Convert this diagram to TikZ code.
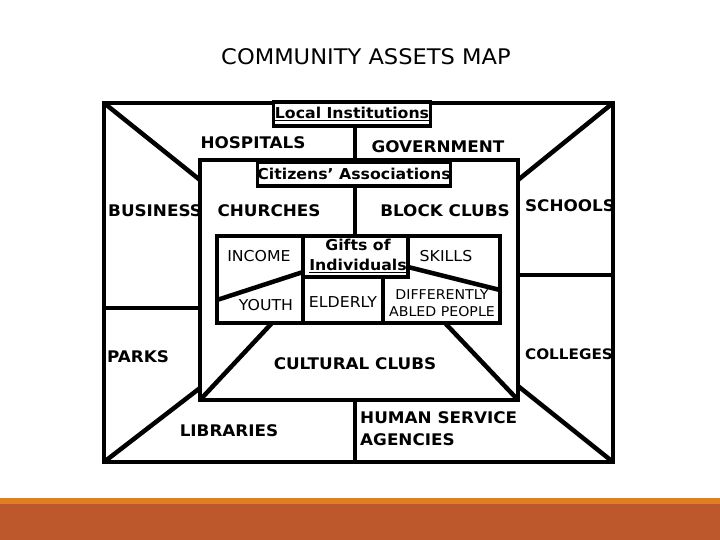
\documentclass[tikz,border=0pt]{standalone}
\usepackage{fontspec}
\setmainfont{DejaVu Sans}[FakeStretch=1.05]
\definecolor{bandlight}{RGB}{224,128,34}
\definecolor{banddark}{RGB}{188,88,44}
\begin{document}
\begin{tikzpicture}[x=1pt,y=-1pt,
  wall/.style={line width=4.5pt, line join=miter},
  lbl/.style={inner sep=0pt, font=\bfseries\fontsize{16}{18}\selectfont},
  smalllbl/.style={inner sep=0pt, font=\fontsize{15}{17}\selectfont},
  tagbox/.style={draw, fill=white, line width=3.5pt, inner sep=0pt, font=\bfseries\fontsize{15}{17}\selectfont}]
\useasboundingbox (0,0) rectangle (720,540);
\fill[white] (0,0) rectangle (720,540);
\fill[bandlight] (0,498) rectangle (720,504);
\fill[banddark] (0,504) rectangle (720,540);

% corners
\coordinate (OTL) at (104,103);
\coordinate (OTR) at (613,103);
\coordinate (OBR) at (613,462);
\coordinate (OBL) at (104,462);
\coordinate (ITL) at (200,160);
\coordinate (ITR) at (518,160);
\coordinate (IBR) at (518,400);
\coordinate (IBL) at (200,400);
\coordinate (DTL) at (200,180);
\coordinate (DTR) at (518,180);
\coordinate (DBL) at (200,388);
\coordinate (DBR) at (518,386);
\coordinate (LH1) at (104,308);
\coordinate (LH2) at (200,308);
\coordinate (RH1) at (518,275);
\coordinate (RH2) at (613,275);
\coordinate (CTL) at (217,236);
\coordinate (CBR) at (500,323);
\coordinate (GTL) at (303,236);
\coordinate (GBR) at (408,277);
\coordinate (GBL) at (303,277);
\coordinate (YB) at (303,323);
\coordinate (EB1) at (383,277);
\coordinate (EB2) at (383,323);
\coordinate (DL1) at (217,300);
\coordinate (DL2) at (303,272);
\coordinate (DR1) at (408,267);
\coordinate (DR2) at (500,290);
\coordinate (TL1) at (272,323);
\coordinate (TR1) at (445,323);
\coordinate (BV1) at (355,400);
\coordinate (BV2) at (355,462);
\coordinate (VT) at (355,160);
\coordinate (VC) at (355,236);

% labels
\node[font=\fontsize{21.5}{24}\selectfont] (title) at (366,57) {COMMUNITY ASSETS MAP};
\node[lbl] (hosp) at (253,143) {HOSPITALS};
\node[lbl] (gov) at (438,147) {GOVERNMENT};
\node[lbl, anchor=west] (bus) at (108,211) {BUSINESS};
\node[lbl] (church) at (269,211) {CHURCHES};
\node[lbl] (block) at (445,211) {BLOCK CLUBS};
\node[lbl] (school) at (570,206) {SCHOOLS};
\node[smalllbl] (income) at (259,256) {INCOME};
\node[smalllbl] (skills) at (446,256) {SKILLS};
\node[smalllbl] (youth) at (266,305) {YOUTH};
\node[smalllbl] (elder) at (343,302) {ELDERLY};
\node[smalllbl, align=center, font=\fontsize{13.5}{17}\selectfont] (diff) at (442,303) {DIFFERENTLY\\ABLED PEOPLE};
\node[lbl, align=center, font=\bfseries\fontsize{15}{20}\selectfont] (gifts) at (358,256) {Gifts of\\\underline{Individuals}};
\node[lbl, anchor=west] (parks) at (107,357) {PARKS};
\node[lbl, font=\bfseries\fontsize{14.5}{17}\selectfont] (coll) at (569,354) {COLLEGES};
\node[lbl] (cult) at (355,364) {CULTURAL CLUBS};
\node[lbl] (lib) at (229,431) {LIBRARIES};
\node[lbl, anchor=west, align=left, font=\bfseries\fontsize{16}{22}\selectfont] (hsa) at (360,429) {HUMAN SERVICE\\AGENCIES};

% walls
\draw[wall] (OTL) rectangle (OBR);
\draw[wall] (ITL) rectangle (IBR);
\draw[wall] (OTL) -- (DTL);
\draw[wall] (OTR) -- (DTR);
\draw[wall] (OBL) -- (DBL);
\draw[wall] (OBR) -- (DBR);
\draw[wall] (LH1) -- (LH2);
\draw[wall] (RH1) -- (RH2);
\draw[wall] (CTL) rectangle (CBR);
\draw[wall] (GTL) rectangle (GBR);
\draw[wall] (GBL) -- (YB);
\draw[wall] (EB1) -- (EB2);
\draw[wall] (DL1) -- (DL2);
\draw[wall] (DR1) -- (DR2);
\draw[wall] (TL1) -- (IBL);
\draw[wall] (TR1) -- (IBR);
\draw[wall] (BV1) -- (BV2);

% tag boxes
\node[tagbox, minimum width=157pt, minimum height=24pt] (local) at (352,114) {\underline{Local Institutions}};
\node[tagbox, minimum width=190pt, minimum height=24pt] (citz) at (354,174) {Citizens' Associations};
\draw[wall] (local.south -| VT) -- (VT);
\draw[wall] (citz.south -| VC) -- (VC);
\end{tikzpicture}
\end{document}
